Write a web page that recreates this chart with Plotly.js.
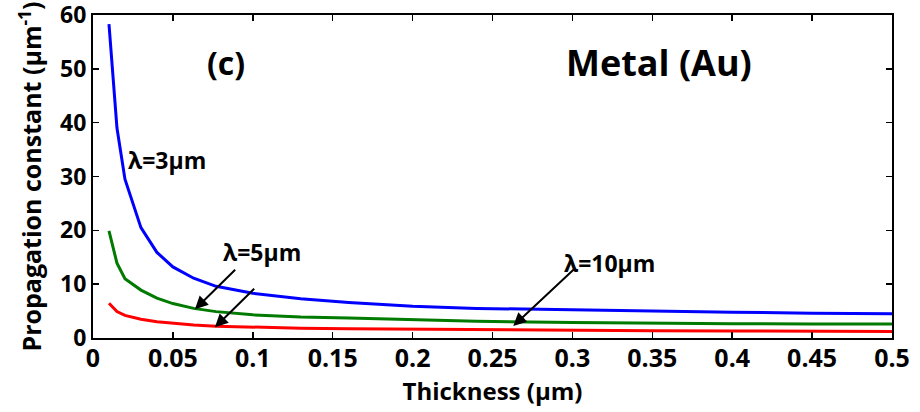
<!DOCTYPE html>
<html>
<head>
<meta charset="utf-8">
<script src="https://cdn.plot.ly/plotly-3.0.1.min.js"></script>
<style>html,body{margin:0;padding:0;background:#fff;}#chart{width:920px;height:412px;}</style>
</head>
<body>
<div id="chart"></div>
<script>
var thickness = [0.01,0.015,0.02,0.03,0.04,0.05,0.063,0.077,0.1,0.13,0.16,0.2,0.24,0.3,0.35,0.4,0.45,0.5];
var beta3um  = [58.3,39.0,29.5,20.5,15.9,13.2,11.1,9.6,8.3,7.3,6.6,5.9,5.5,5.2,5.0,4.8,4.6,4.5];
var beta5um  = [19.9,13.9,11.0,8.9,7.4,6.4,5.5,4.9,4.3,3.9,3.7,3.35,3.1,2.9,2.75,2.65,2.6,2.6];
var beta10um = [6.45,4.9,4.2,3.5,3.0,2.7,2.4,2.2,2.0,1.8,1.7,1.6,1.5,1.45,1.35,1.3,1.25,1.2];
var xTicks = [0,0.05,0.1,0.15,0.2,0.25,0.3,0.35,0.4,0.45,0.5];
var xTickText = ['0','0.05','0.1','0.15','0.2','0.25','0.3','0.35','0.4','0.45','0.5'];
var yTicks = [0,10,20,30,40,50,60];

var F = '"Open Sans", "DejaVu Sans", Arial, sans-serif';
function tr(y, c){ return {x: thickness, y: y, mode:'lines', line:{color:c, width:3}, showlegend:false, hoverinfo:'skip'}; }
var data = [tr(beta3um,'#0000ff'), tr(beta5um,'#007a00'), tr(beta10um,'#ff0000')];

function arrow(x, y, ax, ay){
  return {x:x, y:y, ax:ax, ay:ay, xref:'x', yref:'y', axref:'x', ayref:'y', text:'', showarrow:true,
          arrowhead:2, arrowsize:1.3, arrowwidth:2, arrowcolor:'#000'};
}
function label(t, x, y, size){
  return {x:x, y:y, xref:'x', yref:'y', text:'<b>'+t+'</b>', showarrow:false, font:{family:F, size:size, color:'#000', weight:'bold'}, xanchor:'center', yanchor:'middle'};
}

var layout = {
  width:920, height:412,
  margin:{l:93, r:28, t:15, b:74},
  paper_bgcolor:'#fff', plot_bgcolor:'#fff',
  font:{family:F, color:'#000'},
  xaxis:{range:[0,0.5], tickvals:xTicks, ticktext:xTickText, ticks:'inside', ticklen:6, tickwidth:1.5, tickcolor:'#000',
         showline:true, linewidth:2, linecolor:'#000', mirror:'ticks', showgrid:false, zeroline:false,
         ticklabeloverflow:'allow', ticklabelstandoff:-3,
         tickfont:{family:F, size:25, color:'#000', weight:'bold'},
         title:{text:'<b>Thickness (μm)</b>', font:{family:F, size:24, color:'#000', weight:'bold'}, standoff:0}},
  yaxis:{range:[0,60], tickvals:yTicks, ticks:'inside', ticklen:6, tickwidth:1.5, tickcolor:'#000',
         showline:true, linewidth:2, linecolor:'#000', mirror:'ticks', showgrid:false, zeroline:false,
         ticklabeloverflow:'allow',
         tickfont:{family:F, size:23, color:'#000', weight:'bold'},
         title:{text:'<b>Propagation constant (μm<sup>-1</sup>)</b>', font:{family:F, size:25, color:'#000', weight:'bold'}, standoff:11}},
  annotations:[
    label('(c)', 0.0835, 51.1, 32),
    label('Metal (Au)', 0.3539, 51.1, 36),
    label('λ=3μm', 0.0466, 33.1, 23),
    label('λ=5μm', 0.1058, 16.0, 23),
    label('λ=10μm', 0.3235, 13.9, 23),
    arrow(0.0638, 5.33, 0.0899, 12.95),
    arrow(0.0763, 1.99, 0.1018, 9.42),
    arrow(0.263, 2.23, 0.3016, 12.95)
  ]
};
Plotly.newPlot('chart', data, layout, {staticPlot:true, displayModeBar:false});
</script>
</body>
</html>
